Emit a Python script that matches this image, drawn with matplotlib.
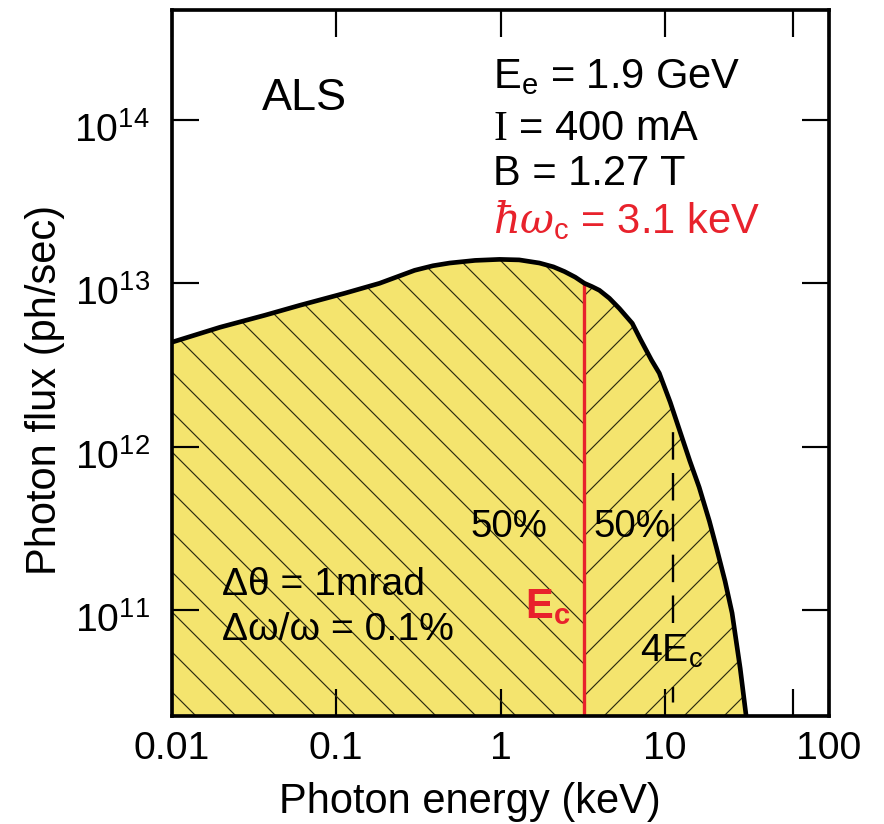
import matplotlib
matplotlib.use('Agg')
import matplotlib.pyplot as plt
import matplotlib.transforms as mtransforms

# ALS bending magnet spectrum
energy_kev = [0.01, 0.0196, 0.0367, 0.060, 0.1127, 0.1837, 0.300, 0.388, 0.490, 0.700,
              0.986, 1.30, 1.726, 2.10, 2.45, 2.85, 3.24, 3.60, 4.0, 4.6, 5.3, 6.34,
              7.1, 8.3, 9.26, 10.8, 11.75, 14.2, 16.2, 18.7, 20.6, 23.3, 25.7, 28.8, 31.3]
flux = [4.36e12, 5.38e12, 6.37e12, 7.33e12, 8.69e12, 1.0e13, 1.20e13, 1.28e13, 1.33e13,
        1.38e13, 1.40e13, 1.39e13, 1.33e13, 1.26e13, 1.18e13, 1.09e13, 1.0e13, 9.55e12,
        9.06e12, 8.1e12, 7.0e12, 5.69e12, 4.55e12, 3.39e12, 2.82e12, 1.87e12, 1.45e12,
        8.2e11, 5.65e11, 3.5e11, 2.43e11, 1.5e11, 9.6e10, 4.4e10, 2.25e10]

ec_kev = 3.24          # critical energy line (red)
ec_flux = 1.0e13
four_ec_kev = 11.3     # 4 Ec dashed line
four_ec_top = 1.45e12
four_ec_gap = (8.3e10, 3.4e10)   # dashed line broken around the 4Ec label

x_ticks = [0.01, 0.1, 1, 10, 100]
x_tick_labels = ['0.01', '0.1', '1', '10', '100']
x_extra_ticks = [60]
y_ticks = [1e11, 1e12, 1e13, 1e14]
y_tick_labels = [r'10$^{\mathrm{11}}$', r'10$^{\mathrm{12}}$',
                 r'10$^{\mathrm{13}}$', r'10$^{\mathrm{14}}$']
xlim = (0.01, 100)
ylim = (2.25e10, 4.7e14)

plt.rcParams['font.family'] = ['Liberation Sans', 'DejaVu Sans']
plt.rcParams['mathtext.fontset'] = 'custom'
plt.rcParams['mathtext.rm'] = 'Liberation Sans'
plt.rcParams['mathtext.sf'] = 'Liberation Sans'
plt.rcParams['mathtext.it'] = 'DejaVu Serif:italic'
plt.rcParams['mathtext.bf'] = 'Liberation Sans:bold'
plt.rcParams['mathtext.cal'] = 'Liberation Serif'
plt.rcParams['hatch.linewidth'] = 0.7
plt.rcParams['lines.scale_dashes'] = False

yellow = '#f4e46e'
red = '#e8222c'
hatch_col = '#2a2a10'

fig = plt.figure(figsize=(884 / 120, 824 / 120), dpi=120)
ax = fig.add_axes([172 / 884, 1 - 716 / 824, 657 / 884, 706 / 824])
ax.set_xscale('log')
ax.set_yscale('log')

# split the area at Ec: "\" hatch left, "/" hatch right
i_ec = energy_kev.index(ec_kev)
left_x, left_y = energy_kev[:i_ec + 1], flux[:i_ec + 1]
right_x, right_y = energy_kev[i_ec:], flux[i_ec:]
ax.fill_between(energy_kev, flux, 1e9, facecolor=yellow, edgecolor='none', zorder=1)
ax.fill_between(left_x, left_y, 1e9, facecolor='none', edgecolor=hatch_col,
                linewidth=0, hatch='\\', zorder=2)
ax.fill_between(right_x, right_y, 1e9, facecolor='none', edgecolor=hatch_col,
                linewidth=0, hatch='/', zorder=2)

ax.plot(energy_kev, flux, color='black', lw=2.8, solid_joinstyle='round',
        solid_capstyle='butt', zorder=5)
ax.plot([ec_kev, ec_kev], [1e9, ec_flux], color=red, lw=2.0, zorder=4)
ax.plot([four_ec_kev, four_ec_kev], [four_ec_gap[0], four_ec_top], color='black',
        lw=1.4, dashes=(16.5, 8), zorder=4)
ax.plot([four_ec_kev, four_ec_kev], [1e9, four_ec_gap[1]], color='black',
        lw=1.4, dashes=(16.5, 8), zorder=4)

ax.set_xlim(*xlim)
ax.set_ylim(*ylim)
ax.set_xticks(x_ticks)
ax.set_xticklabels(x_tick_labels)
ax.set_xticks(x_extra_ticks, minor=True)
ax.set_yticks(y_ticks)
ax.set_yticklabels([])
ax.yaxis.set_minor_locator(matplotlib.ticker.NullLocator())
ax.tick_params(which='both', direction='in', top=True, right=True,
               length=16, width=1.3, labelsize=23.5)
ax.tick_params(axis='x', pad=9)
for s in ax.spines.values():
    s.set_linewidth(2.2)
    s.set_zorder(6)

# y tick labels: the "10" sits a little below the tick, as in the original
ylab_tr = mtransforms.blended_transform_factory(ax.transAxes, ax.transData) + \
    mtransforms.ScaledTranslation(0, -22 / 120, fig.dpi_scale_trans)
for v, lab in zip(y_ticks, y_tick_labels):
    ax.text(-0.034, v, lab, fontsize=23.5, ha='right', va='baseline',
            transform=ylab_tr, clip_on=False)

ax.set_xlabel('Photon energy (keV)', fontsize=25)
ax.set_ylabel('Photon flux (ph/sec)', fontsize=25)
ax.xaxis.set_label_coords(0.454, -0.093)
ax.yaxis.set_label_coords(-0.163, 0.462)

tr = ax.transAxes
ax.text(0.137, 0.875, 'ALS', fontsize=27, va='center', transform=tr)
ax.text(0.489, 0.904, r'E$_{\mathrm{e}}$ = 1.9 GeV', fontsize=25, va='center', transform=tr)
ax.text(0.489, 0.832, r'$\mathcal{I}$ = 400 mA', fontsize=25, va='center', transform=tr)
ax.text(0.489, 0.767, 'B = 1.27 T', fontsize=25, va='center', transform=tr)
ax.text(0.489, 0.702, r'$\hbar\omega_{\mathrm{c}}$ = 3.1 keV', fontsize=25, va='center',
        color=red, transform=tr)

ax.text(0.454, 0.268, '50%', fontsize=23, va='center', transform=tr, zorder=7)
ax.text(0.641, 0.268, '50%', fontsize=23, va='center', transform=tr, zorder=7)
ax.text(0.537, 0.154, r'E$_{\mathbf{c}}$', fontsize=25, fontweight='bold', color=red,
        va='center', transform=tr, zorder=7)
ax.text(0.712, 0.093, r'4E$_{\mathrm{c}}$', fontsize=23.5, va='center', transform=tr, zorder=7)
ax.text(0.076, 0.186, 'Δθ = 1mrad', fontsize=23.5, va='center', transform=tr, zorder=7)
ax.text(0.076, 0.122, 'Δω/ω = 0.1%', fontsize=23.5, va='center', transform=tr, zorder=7)

fig.savefig('out.png', dpi=120)
